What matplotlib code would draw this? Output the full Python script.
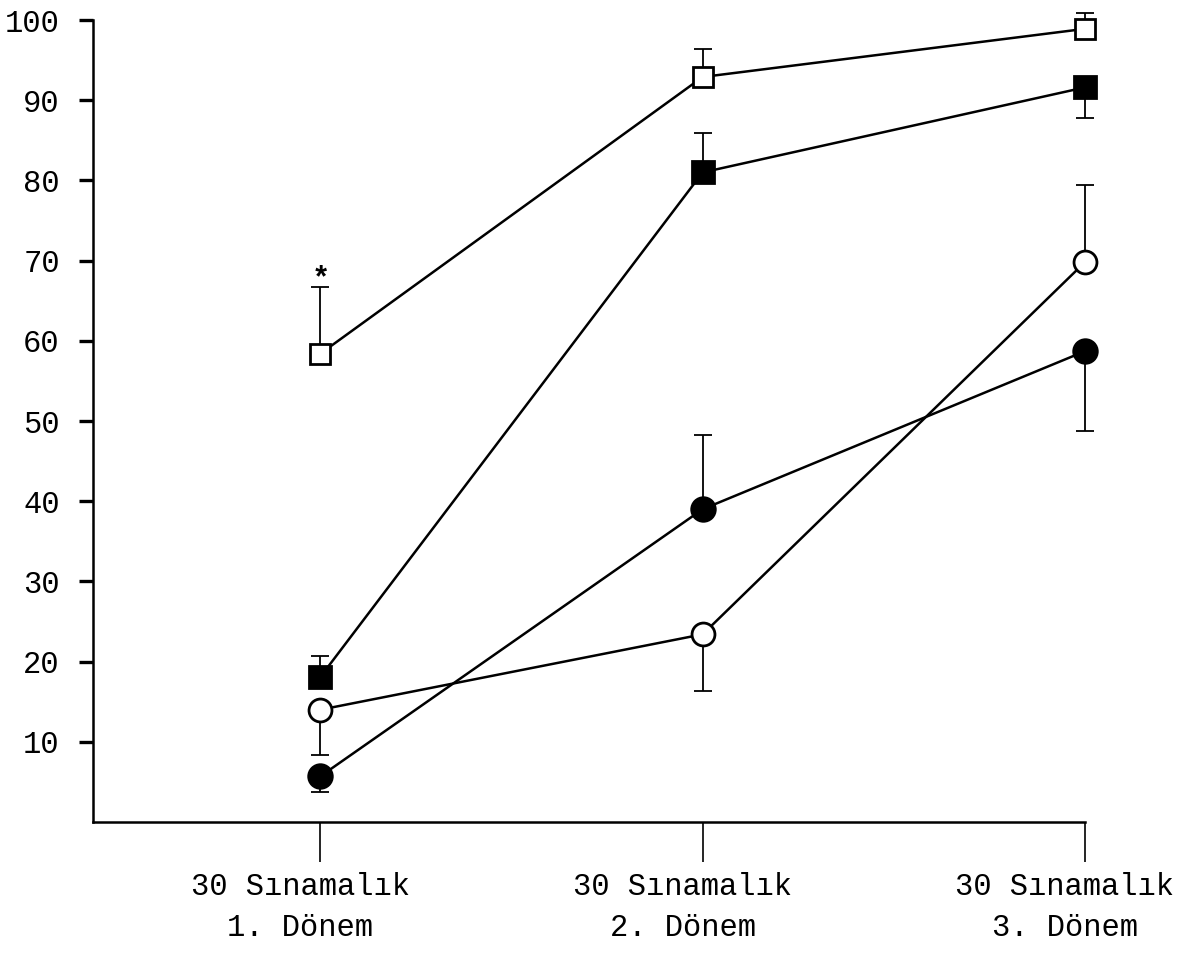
import matplotlib
matplotlib.use("Agg")
import matplotlib.pyplot as plt
import matplotlib.transforms as mtransforms

plt.rcParams['font.family'] = ['Liberation Mono', 'DejaVu Sans Mono']

# x positions: three 30-trial periods
periods = [1, 2, 3]
period_labels = ["30 Sınamalık\n1. Dönem", "30 Sınamalık\n2. Dönem", "30 Sınamalık\n3. Dönem"]
y_ticks = [10, 20, 30, 40, 50, 60, 70, 80, 90, 100]

# series values with one-sided error bars
open_square = [58.4, 92.9, 98.9]
open_square_lo = [0, 0, 0]
open_square_hi = [8.3, 3.5, 2.0]

filled_square = [18.1, 81.0, 91.6]
filled_square_lo = [0, 0, 3.8]
filled_square_hi = [2.6, 4.9, 0]

open_circle = [14.0, 23.4, 69.8]
open_circle_lo = [5.6, 7.1, 0]
open_circle_hi = [0, 0, 9.6]

filled_circle = [5.7, 39.0, 58.7]
filled_circle_lo = [2.0, 0, 9.9]
filled_circle_hi = [0, 9.3, 0]

fig = plt.figure(figsize=(11.85, 9.59), dpi=100)
ax = fig.add_axes([0.0785, 0.1429, 0.837, 0.8362])

series = [
    (open_square, open_square_lo, open_square_hi, 's', 'white', 15),
    (filled_square, filled_square_lo, filled_square_hi, 's', 'black', 15.5),
    (open_circle, open_circle_lo, open_circle_hi, 'o', 'white', 16.5),
    (filled_circle, filled_circle_lo, filled_circle_hi, 'o', 'black', 17),
]
for vals, lo, hi, mk, fc, ms in series:
    ax.errorbar(periods, vals, yerr=[lo, hi], fmt='none', ecolor='black',
                elinewidth=1.3, capsize=6.5, capthick=1.3, zorder=2, clip_on=False)
    ax.plot(periods, vals, color='black', linewidth=1.8, marker=mk, markersize=ms,
            markerfacecolor=fc, markeredgecolor='black', markeredgewidth=2.0,
            zorder=3, clip_on=False)

# significance mark above the first open-square error bar
ax.annotate('*', xy=(periods[0], open_square[0] + open_square_hi[0]),
            xytext=(0, -5), textcoords='offset points', ha='center', va='bottom',
            fontsize=22, fontweight='bold')

ax.set_xlim(0.405, 3.0)
ax.set_ylim(0, 100)
ax.spines['top'].set_visible(False)
ax.spines['right'].set_visible(False)
ax.spines['left'].set_linewidth(1.8)
ax.spines['bottom'].set_linewidth(1.8)

ax.set_yticks(y_ticks)
ax.set_yticklabels([str(v) for v in y_ticks])
ax.tick_params(axis='y', length=10, width=2.4, pad=14, labelsize=22)

ax.set_xticks(periods)
ax.set_xticklabels(period_labels)
ax.tick_params(axis='x', length=29, width=1.2, pad=7, labelsize=22)
shift = mtransforms.ScaledTranslation(-20 / 100, 0, fig.dpi_scale_trans)
for t in ax.get_xticklabels():
    t.set_linespacing(1.5)
    t.set_transform(t.get_transform() + shift)

plt.savefig("out.png", dpi=100)
